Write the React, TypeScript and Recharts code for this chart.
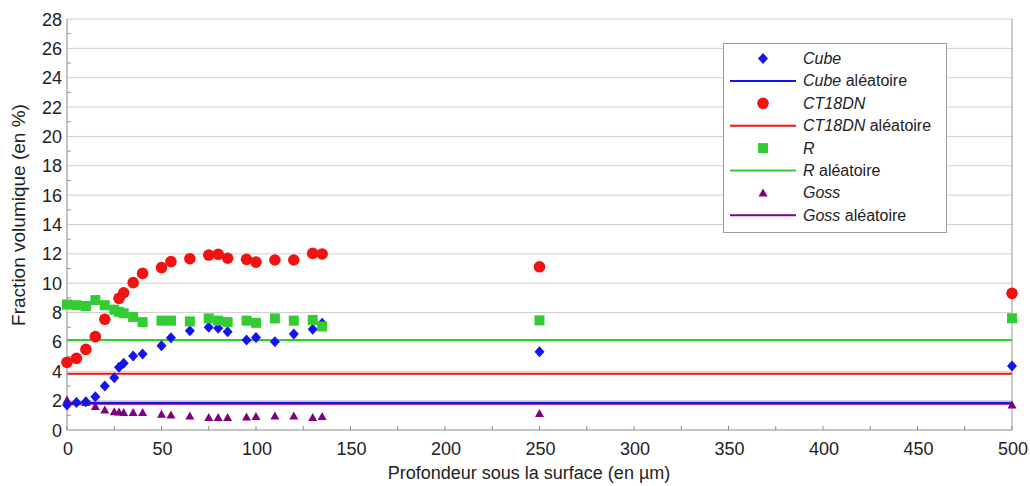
import React from 'react';
import { ScatterChart, Scatter, XAxis, YAxis, CartesianGrid, ReferenceLine, Legend } from 'recharts';

// ---- data ----
const depths = [0, 5, 10, 15, 20, 25, 27.5, 30, 35, 40, 50, 55, 65, 75, 80, 85, 95, 100, 110, 120, 130, 135, 250, 500];
const cubeValues = [1.7, 1.88, 1.93, 2.27, 3.0, 3.56, 4.27, 4.54, 5.04, 5.18, 5.74, 6.29, 6.77, 7.0, 6.93, 6.7, 6.13, 6.31, 6.02, 6.54, 6.86, 7.27, 5.33, 4.36];
const ct18dnValues = [4.61, 4.88, 5.49, 6.36, 7.54, null, 8.97, 9.35, 10.04, 10.67, 11.06, 11.47, 11.67, 11.92, 11.97, 11.7, 11.63, 11.44, 11.58, 11.58, 12.03, 11.99, 11.12, 9.31];
const rValues = [8.55, 8.5, 8.45, 8.85, 8.5, 8.2, 8.05, 7.95, 7.7, 7.35, 7.45, 7.45, 7.4, 7.6, 7.45, 7.35, 7.45, 7.3, 7.6, 7.45, 7.5, 7.05, 7.47, 7.61];
const gossValues = [2.04, 1.93, 1.87, 1.6, 1.36, 1.25, 1.22, 1.2, 1.2, 1.2, 1.07, 1.02, 0.95, 0.86, 0.86, 0.86, 0.88, 0.92, 0.95, 0.95, 0.86, 0.92, 1.13, 1.7];

const randomNames = ['Goss', 'Cube', 'CT18DN', 'R'];
const randomValues = [1.78, 1.86, 3.83, 6.13];

const xTicks = [0, 25, 50, 75, 100, 125, 150, 175, 200, 225, 250, 275, 300, 325, 350, 375, 400, 425, 450, 475, 500];
const yTicks = Array.from({ length: 29 }, (_, i) => i);
const yGrid = [2, 4, 6, 8, 10, 12, 14, 16, 18, 20, 22, 24, 26, 28];

const legendNames = ['Cube', 'CT18DN', 'R', 'Goss'];

const COLORS: Record<string, string> = {
  Cube: '#1414ee',
  CT18DN: '#f21212',
  R: '#33cc33',
  Goss: '#800080',
};

const toPoints = (vals: (number | null)[]) =>
  depths.map((d, i) => ({ x: d, y: vals[i] })).filter((p) => p.y !== null);

const FONT = '"Liberation Sans", Arial, sans-serif';

const Diamond = (p: any) => (
  <polygon points={`${p.cx},${p.cy - 5.5} ${p.cx + 5},${p.cy} ${p.cx},${p.cy + 5.5} ${p.cx - 5},${p.cy}`} fill={COLORS.Cube} />
);
const Circle = (p: any) => <circle cx={p.cx} cy={p.cy} r={5.8} fill={COLORS.CT18DN} />;
const Square = (p: any) => <rect x={p.cx - 5} y={p.cy - 5} width={10} height={10} fill={COLORS.R} />;
const Triangle = (p: any) => (
  <polygon points={`${p.cx},${p.cy - 4.5} ${p.cx + 4.5},${p.cy + 3.5} ${p.cx - 4.5},${p.cy + 3.5}`} fill={COLORS.Goss} />
);

const shapeFor: Record<string, any> = { Cube: Diamond, CT18DN: Circle, R: Square, Goss: Triangle };

const XTick = (props: any) => {
  const { x, y, payload } = props;
  const v = payload.value;
  return (
    <g>
      <line x1={x} x2={x} y1={y} y2={y - 4} stroke="#888" strokeWidth={1} />
      {v % 50 === 0 && (
        <text x={x + 1} y={y + 25} textAnchor="middle" fontSize={18} fontFamily={FONT} fill="#222">
          {v}
        </text>
      )}
    </g>
  );
};

const YTick = (props: any) => {
  const { x, y, payload } = props;
  const v = payload.value;
  return (
    <g>
      {v % 2 === 1 && <line x1={x} x2={x + 4} y1={y} y2={y} stroke="#999" strokeWidth={1} />}
      {v % 2 === 0 && (
        <text x={x - 5} y={y + 6.5} textAnchor="end" fontSize={18} fontFamily={FONT} fill="#222">
          {v}
        </text>
      )}
    </g>
  );
};

const LegendBox = () => {
  const rowH = 22.4;
  return (
    <svg width={225} height={191} style={{ display: 'block' }}>
      <rect x={0.5} y={0.5} width={223} height={189} fill="#fff" stroke="#9a9a9a" strokeWidth={1} />
      {legendNames.map((name, i) => {
        const cy1 = 15.5 + i * 2 * rowH;
        const cy2 = cy1 + rowH;
        const Shape = shapeFor[name];
        return (
          <g key={name}>
            <Shape cx={40} cy={cy1} />
            <text x={80} y={cy1 + 5.5} fontSize={16} fontFamily={FONT} fill="#222" fontStyle="italic">
              {name}
            </text>
            <line x1={7} x2={73} y1={cy2} y2={cy2} stroke={COLORS[name]} strokeWidth={2} />
            <text x={80} y={cy2 + 5.5} fontSize={16} fontFamily={FONT} fill="#222">
              <tspan fontStyle="italic">{name}</tspan>
              <tspan> aléatoire</tspan>
            </text>
          </g>
        );
      })}
    </svg>
  );
};

export default function App() {
  return (
    <div style={{ position: 'absolute', left: 0, top: 0, width: 1030, height: 486, background: '#fff' }}>
      <ScatterChart width={1030} height={486} margin={{ top: 19, right: 18, bottom: 26, left: 17 }}>
        <CartesianGrid horizontal vertical={false} horizontalValues={yGrid} stroke="#cfcfcf" strokeWidth={1} />
        <XAxis
          type="number"
          dataKey="x"
          domain={[0, 500]}
          ticks={xTicks}
          interval={0}
          height={30}
          tickSize={0}
          tickMargin={0}
          tickLine={false}
          axisLine={{ stroke: '#8a8a8a' }}
          tick={<XTick />}
        />
        <YAxis
          type="number"
          dataKey="y"
          domain={[0, 28]}
          ticks={yTicks}
          interval={0}
          width={50}
          tickSize={0}
          tickMargin={0}
          tickLine={false}
          axisLine={{ stroke: '#8a8a8a' }}
          tick={<YTick />}
        />
        <ReferenceLine x={500} stroke="#9a9a9a" strokeWidth={1} />
        {randomNames.map((name, i) => (
          <ReferenceLine key={name} y={randomValues[i]} stroke={COLORS[name]} strokeWidth={2} />
        ))}
        <Scatter name="Goss" data={toPoints(gossValues)} shape={Triangle} isAnimationActive={false} />
        <Scatter name="Cube" data={toPoints(cubeValues)} shape={Diamond} isAnimationActive={false} />
        <Scatter name="R" data={toPoints(rValues)} shape={Square} isAnimationActive={false} />
        <Scatter name="CT18DN" data={toPoints(ct18dnValues)} shape={Circle} isAnimationActive={false} />
        <Legend
          layout="vertical"
          align="center"
          verticalAlign="middle"
          content={() => <LegendBox />}
          wrapperStyle={{ position: 'absolute', left: 723, top: 43, width: 225, height: 191 }}
        />
      </ScatterChart>
      <svg width={1030} height={486} style={{ position: 'absolute', left: 0, top: 0, pointerEvents: 'none' }}>
        <text x={529} y={479} textAnchor="middle" fontSize={18} fontFamily={FONT} fill="#222">
          Profondeur sous la surface (en µm)
        </text>
        <text
          x={25}
          y={215}
          transform="rotate(-90 25 215)"
          textAnchor="middle"
          fontSize={19}
          fontFamily={FONT}
          fill="#222"
        >
          Fraction volumique (en %)
        </text>
      </svg>
    </div>
  );
}
